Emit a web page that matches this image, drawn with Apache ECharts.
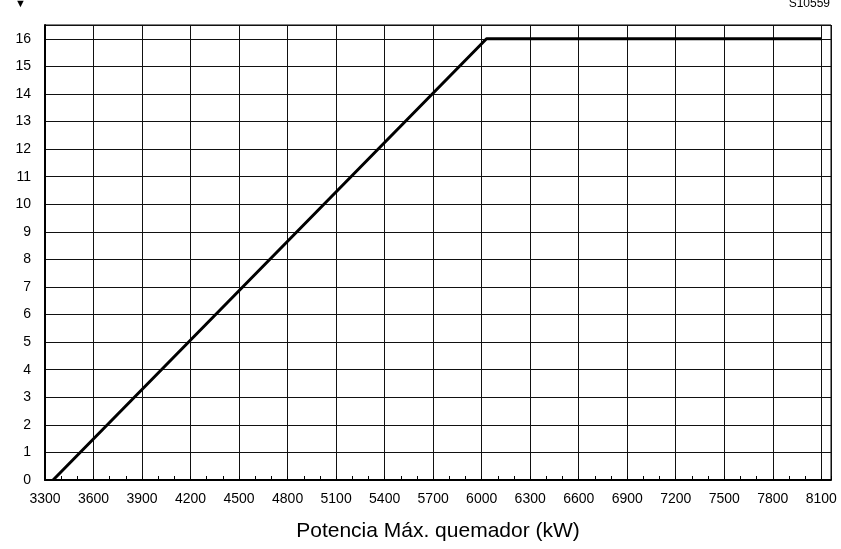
<!DOCTYPE html>
<html>
<head>
<meta charset="utf-8">
<script src="https://cdn.jsdelivr.net/npm/echarts@6/dist/echarts.min.js"></script>
<style>
  html, body { margin: 0; padding: 0; background: #fff; }
  #chart { width: 841px; height: 549px; }
</style>
</head>
<body>
<div id="chart"></div>
<script>
// curva potencia / valor (kW)
const potencia = [3350, 6030, 8100];
const valor = [0, 16, 16];

const xMin = 3300;
const xMax = 8160;
const xStep = 300;
const xMinorStep = 100;

const chart = echarts.init(document.getElementById("chart"));
const font = "Liberation Sans, Arial, sans-serif";

const option = {
  animation: false,
  title: [
    { text: "S10559", right: 11, top: -2, padding: 0, textStyle: { fontSize: 12, fontWeight: "normal", color: "#000", fontFamily: font } },
    { text: "▼", left: 15, top: -2, padding: 0, textStyle: { fontSize: 11, fontWeight: "normal", color: "#000", fontFamily: font } },
  ],
  grid: {
    left: 45, right: 10, top: 25, bottom: 69,
    show: true, borderColor: "#000", borderWidth: 1,
  },
  xAxis: [
    {
      type: "value",
      min: xMin, max: xMax, interval: xStep,
      name: "Potencia Máx. quemador (kW)",
      nameLocation: "middle",
      nameGap: 41,
      nameTextStyle: { fontSize: 21, color: "#000", fontFamily: font },
      axisLine: { lineStyle: { color: "#000", width: 2 } },
      axisTick: { show: false },
      axisLabel: {
        margin: 12, fontSize: 14, color: "#000", fontFamily: font,
        formatter: (v) => (v % xStep === 0 ? String(v) : ""),
      },
      splitLine: { lineStyle: { color: "#111", width: 1 } },
    },
    {
      // marcas menores cada 100 kW
      type: "value",
      position: "bottom",
      min: xMin, max: xMax, interval: xMinorStep,
      axisLine: { show: false },
      axisTick: { show: true, inside: true, length: 4, lineStyle: { color: "#000", width: 1 } },
      axisLabel: { show: false },
      splitLine: { show: false },
    },
  ],
  yAxis: {
    type: "value",
    min: 0, max: 16.5, interval: 1,
    axisLine: { show: true, lineStyle: { color: "#000", width: 2 } },
    axisTick: { show: false },
    axisLabel: {
      margin: 14, fontSize: 14, color: "#000", fontFamily: font,
      formatter: (v) => (Number.isInteger(v) ? String(v) : ""),
    },
    splitLine: { lineStyle: { color: "#111", width: 1 } },
  },
  series: [
    {
      type: "line",
      xAxisIndex: 0,
      data: potencia.map((p, i) => [p, valor[i]]),
      symbol: "none",
      lineStyle: { color: "#000", width: 3 },
    },
  ],
};

chart.setOption(option);
</script>
</body>
</html>
